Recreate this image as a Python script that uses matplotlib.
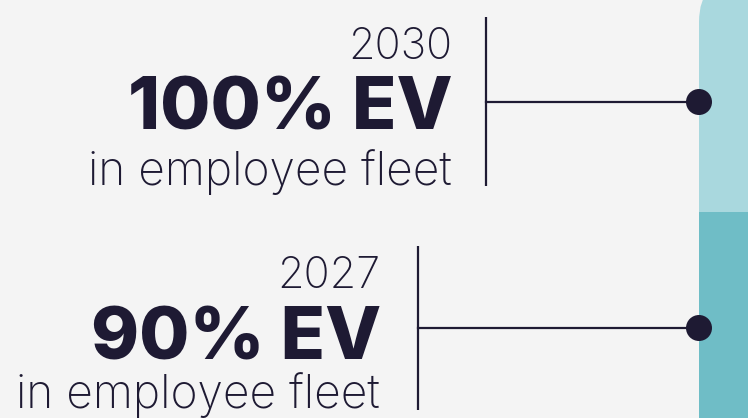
import matplotlib.pyplot as plt
from matplotlib.patches import FancyBboxPatch, Rectangle, Circle

INK = "#1e1a33"
BG = "#f4f4f4"
LIGHT = "#a9d8de"
DARK = "#6fbdc6"

years = ["2030", "2027"]
targets = ["100% EV", "90% EV"]
captions = ["in employee fleet", "in employee fleet"]

# layout in pixel units (y grows downward)
text_right = [452, 380]
rule_x = [486, 418]
rule_span = [(17, 186), (246, 410)]
marker_y = [102, 328]
year_base = [59, 288]
target_base = [130, 360]
caption_base = [185, 408]


def main():
    fig = plt.figure(figsize=(7.48, 4.18), dpi=100, facecolor=BG)
    ax = fig.add_axes([0, 0, 1, 1])
    ax.set_xlim(0, 748)
    ax.set_ylim(418, 0)
    ax.axis("off")
    ax.set_facecolor(BG)

    # right-hand column
    ax.add_patch(FancyBboxPatch((699, -23), 200, 300,
                                boxstyle="round,pad=0,rounding_size=45",
                                fc=LIGHT, ec="none", zorder=1))
    ax.add_patch(Rectangle((699, 212), 200, 260, fc=DARK, ec="none", zorder=2))

    for i in range(len(years)):
        x0 = rule_x[i]
        ax.plot([x0, x0], rule_span[i], color=INK, lw=1.6, solid_capstyle="butt", zorder=3)
        ax.plot([x0, 699], [marker_y[i]] * 2, color=INK, lw=1.6, zorder=3)
        ax.add_patch(Circle((699, marker_y[i]), 13, fc=INK, ec="none", zorder=4))

        r = text_right[i]
        ax.text(r, year_base[i], years[i], ha="right", va="baseline",
                fontsize=31, fontweight="light", family="Inter", color=INK)
        ax.text(r + 1, target_base[i], targets[i], ha="right", va="baseline",
                fontsize=52.5, fontweight="heavy", family="Inter", color=INK)
        ax.text(r, caption_base[i], captions[i], ha="right", va="baseline",
                fontsize=33.2, fontweight="light", family="Inter", color=INK)

    fig.savefig("out.png", dpi=100, facecolor=BG)
    plt.close(fig)


if __name__ == "__main__":
    main()
